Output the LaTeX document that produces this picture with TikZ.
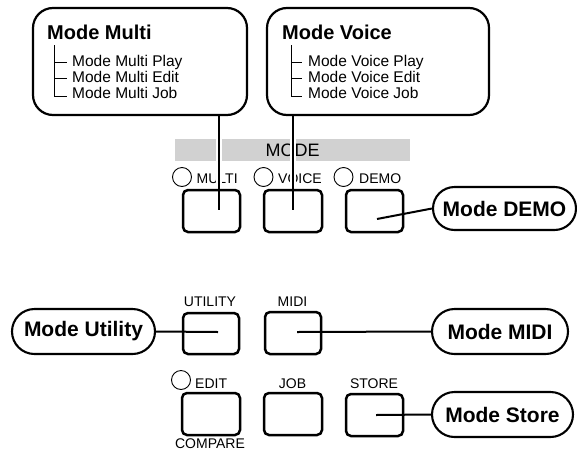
\documentclass[tikz,border=0pt]{standalone}
\usepackage{fontspec}
\setmainfont{Liberation Sans}
\usetikzlibrary{shapes.misc}
\tikzset{
  bigbox/.style={draw, line width=2.2pt, rounded corners=20pt, inner sep=0pt},
  titletxt/.style={anchor=base west, inner sep=0pt, font=\fontsize{20}{24}\selectfont\bfseries},
  itemtxt/.style={anchor=base west, inner sep=0pt, font=\fontsize{15.5}{18}\selectfont},
  tree/.style={line width=0.9pt},
  btn/.style={draw, line width=2.5pt, rounded corners=5pt, fill=white, inner sep=0pt},
  led/.style={draw, circle, line width=0.9pt, inner sep=0pt, minimum size=19pt},
  lbl/.style={inner sep=0pt, font=\fontsize{14}{16}\selectfont},
  pill/.style={draw, rounded rectangle, line width=2.1pt, fill=white, inner sep=0pt, minimum height=45pt, font=\fontsize{21}{25}\selectfont\bfseries},
  conn/.style={line width=2pt},
  halo/.style={line width=6pt, white},
  band/.style={fill=black!18, inner sep=0pt, minimum width=235pt, minimum height=22pt, font=\fontsize{18}{21}\selectfont}
}
\begin{document}
\begin{tikzpicture}[x=1pt,y=-1pt]
\useasboundingbox (0,0) rectangle (577,450);

% top menu boxes
\node[bigbox, minimum width=214pt, minimum height=107pt] (multibox) at (140,61.5) {};
\node[bigbox, minimum width=222pt, minimum height=107pt] (voicebox) at (378,61.5) {};

\node[titletxt] (multititle) at (47,39) {Mode Multi};
\node[itemtxt] (mplay) at (72,66.7) {Mode Multi Play};
\node[itemtxt] (medit) at (72,82.7) {Mode Multi Edit};
\node[itemtxt] (mjob) at (72,98.5) {Mode Multi Job};
\draw[tree] (54,45) -- (54,96) -- (67,96);
\draw[tree] (54,62) -- (67,62);
\draw[tree] (54,78.5) -- (67,78.5);

\node[titletxt] (voicetitle) at (282,39) {Mode Voice};
\node[itemtxt] (vplay) at (308,66.7) {Mode Voice Play};
\node[itemtxt] (vedit) at (308,82.7) {Mode Voice Edit};
\node[itemtxt] (vjob) at (308,98.5) {Mode Voice Job};
\draw[tree] (291,45) -- (291,96) -- (302,96);
\draw[tree] (291,62) -- (302,62);
\draw[tree] (291,78.5) -- (302,78.5);

% MODE band
\node[band] (modeband) at (292.5,150) {MODE};

% LEDs and labels, top row
\node[led] (ledmulti) at (182,177) {};
\node[lbl, anchor=west] (lmulti) at (196.5,179) {MULTI};
\node[led] (ledvoice) at (263.5,177) {};
\node[lbl, anchor=west] (lvoice) at (278,179) {VOICE};
\node[led] (leddemo) at (343.5,177) {};
\node[lbl, anchor=west] (ldemo) at (359,179) {DEMO};

% top row buttons
\node[btn, minimum width=57pt, minimum height=42pt] (bmulti) at (211.5,211) {};
\node[btn, minimum width=58pt, minimum height=42pt] (bvoice) at (293,211) {};
\node[btn, minimum width=57pt, minimum height=42pt] (bdemo) at (374.5,211) {};

% second row
\node[lbl] (lutility) at (210,302) {UTILITY};
\node[lbl] (lmidi) at (292.5,302) {MIDI};
\node[btn, minimum width=56pt, minimum height=41pt] (butility) at (211,333.5) {};
\node[btn, minimum width=56pt, minimum height=42pt] (bmidi) at (293,333) {};

% third row
\node[led] (ledit) at (181,380) {};
\node[lbl, anchor=west] (ledittxt) at (195,384) {EDIT};
\node[lbl] (ljob) at (292.5,384) {JOB};
\node[lbl] (lstore) at (374,384) {STORE};
\node[btn, minimum width=58pt, minimum height=42pt] (bedit) at (211,414) {};
\node[btn, minimum width=58pt, minimum height=42pt] (bjob) at (293,414) {};
\node[btn, minimum width=57pt, minimum height=42pt] (bstore) at (374.5,415) {};
\node[lbl, anchor=base] (lcompare) at (210,448.5) {COMPARE};

% pills
\node[pill, minimum width=143pt, minimum height=43pt] (pdemo) at (504.5,208.5) {Mode DEMO};
\node[pill, minimum width=143pt] (putility) at (83.5,331.5) {Mode Utility};
\node[pill, minimum width=136pt] (pmidi) at (500,331.5) {Mode MIDI};
\node[pill, minimum width=141pt] (pstore) at (502.5,414.5) {Mode Store};

% connector end points
\coordinate (emulti) at (219,210);
\coordinate (evoice) at (293,210);
\coordinate (hmulti) at (219,187);
\coordinate (hvoice) at (293,187);
\coordinate (edemo) at (377,219);
\coordinate (eutility) at (218,332);
\coordinate (emidi) at (297,332);
\coordinate (estore) at (376,415);

% halos above the buttons
\draw[halo] (multibox.south -| emulti) ++(0,4) -- (hmulti);
\draw[halo] (voicebox.south -| evoice) ++(0,4) -- (hvoice);

% connectors
\draw[conn] (multibox.south -| emulti) -- (emulti);
\draw[conn] (voicebox.south -| evoice) -- (evoice);
\draw[conn] (edemo) -- (pdemo.west);
\draw[conn] (putility.east) -- (eutility);
\draw[conn] (emidi) -- (pmidi.west);
\draw[conn] (estore) -- (pstore.west);
\end{tikzpicture}
\end{document}
